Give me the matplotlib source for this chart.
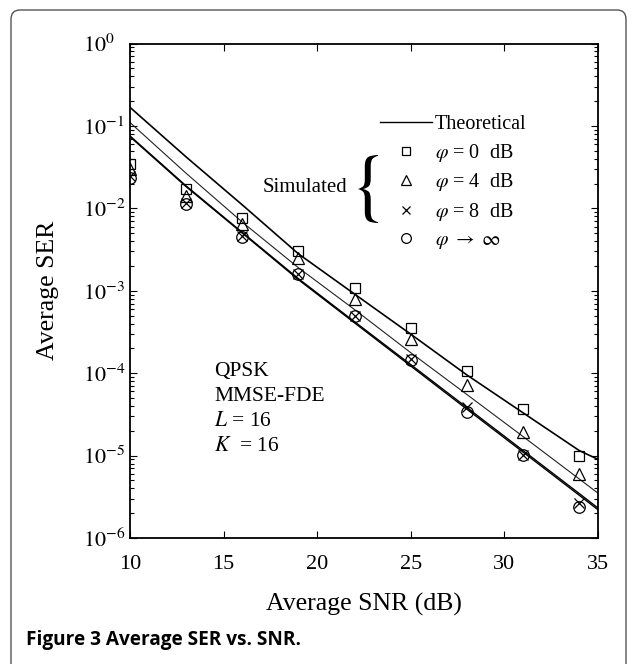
import matplotlib
matplotlib.use("Agg")
import matplotlib.pyplot as plt
from matplotlib.ticker import FixedLocator, LogLocator, NullFormatter
from matplotlib.lines import Line2D
from matplotlib.patches import FancyBboxPatch, PathPatch
from matplotlib.textpath import TextPath
from matplotlib.font_manager import FontProperties
from matplotlib.transforms import Affine2D

plt.rcParams['font.family'] = ['Liberation Serif', 'DejaVu Serif']
plt.rcParams['mathtext.fontset'] = 'stix'

# ---------------- data ----------------
snr_th = [10, 13, 16, 19, 22, 25, 28, 31, 34, 35]
th_phi0 = [0.168, 0.042, 0.011, 0.0028, 9.1e-4, 2.97e-4, 9.5e-5, 3.3e-5, 1.15e-5, 9.0e-6]
th_phi4 = [0.110, 0.0266, 0.0068, 0.0019, 5.9e-4, 1.77e-4, 5.5e-5, 1.7e-5, 5.2e-6, 3.5e-6]
th_phi8 = [0.0755, 0.0187, 0.0051, 0.00140, 4.2e-4, 1.27e-4, 3.82e-5, 1.15e-5, 3.46e-6, 2.31e-6]
th_phiinf = [0.074, 0.0183, 0.0050, 0.00136, 4.07e-4, 1.22e-4, 3.65e-5, 1.1e-5, 3.3e-6, 2.2e-6]

snr_sim = [10, 13, 16, 19, 22, 25, 28, 31, 34]
sim_phi0 = [0.0345, 0.0171, 0.0076, 0.0030, 1.07e-3, 3.5e-4, 1.06e-4, 3.66e-5, 9.8e-6]
sim_phi4 = [0.0297, 0.0141, 0.0064, 0.00247, 8.0e-4, 2.6e-4, 7.1e-5, 1.93e-5, 5.9e-6]
sim_phi8 = [0.025, 0.0115, 0.0046, 0.0016, 5.0e-4, 1.5e-4, 3.9e-5, 1.03e-5, 2.64e-6]
sim_phiinf = [0.0235, 0.0113, 0.0045, 0.0016, 5.0e-4, 1.44e-4, 3.37e-5, 1.03e-5, 2.37e-6]

xticks = [10, 15, 20, 25, 30, 35]
yticks = [1e-6, 1e-5, 1e-4, 1e-3, 1e-2, 1e-1, 1e0]
ytick_labels = [r'$10^{-6}$', r'$10^{-5}$', r'$10^{-4}$', r'$10^{-3}$',
                r'$10^{-2}$', r'$10^{-1}$', r'$10^{0}$']
legend_labels = ['Theoretical', r'$\varphi$ = 0  dB', r'$\varphi$ = 4  dB',
                 r'$\varphi$ = 8  dB', r'$\varphi\ \rightarrow\ \infty$']

# ---------------- figure ----------------
W, H = 635, 664
fig = plt.figure(figsize=(W / 100, H / 100), dpi=100)

# outer rounded frame
frame = FancyBboxPatch((11 / W, -0.1), 615 / W, 1.1 - 10 / H,
                       boxstyle="round,pad=0,rounding_size=0.014",
                       transform=fig.transFigure, facecolor='none',
                       edgecolor='#555555', linewidth=1.0)
fig.patches.append(frame)

ax = fig.add_axes([130 / W, 1 - 538 / H, 468 / W, 494.5 / H])

# theoretical curves
ax.semilogy(snr_th, th_phi0, color='black', lw=1.2)
ax.semilogy(snr_th, th_phi4, color='#222222', lw=0.8)
ax.semilogy(snr_th, th_phi8, color='black', lw=1.0)
ax.semilogy(snr_th, th_phiinf, color='black', lw=1.0)

mk = dict(linestyle='none', mfc='none', mec='black', mew=0.9)
ax.semilogy(snr_sim, sim_phi0, marker='s', ms=7.0, **mk)
ax.semilogy(snr_sim, sim_phi4, marker='^', ms=9.0, **mk)
ax.semilogy(snr_sim, sim_phi8, marker='x', ms=6.5, **mk)
ax.semilogy(snr_sim, sim_phiinf, marker='o', ms=8.3, **mk)

ax.set_xlim(10, 35)
ax.set_ylim(1e-6, 1)
ax.xaxis.set_major_locator(FixedLocator(xticks))
ax.set_xticklabels([str(t) for t in xticks])
ax.yaxis.set_major_locator(FixedLocator(yticks))
ax.set_yticklabels(ytick_labels)
ax.yaxis.set_minor_locator(LogLocator(base=10, subs=range(2, 10), numticks=20))
ax.yaxis.set_minor_formatter(NullFormatter())

ax.tick_params(which='both', direction='in', top=True, right=True, width=0.8,
               labelsize=16)
ax.tick_params(which='major', length=5)
ax.tick_params(which='minor', length=3)
ax.tick_params(axis='x', pad=12)
ax.tick_params(axis='y', pad=34)
for lbl in ax.get_yticklabels():
    lbl.set_horizontalalignment('left')
for sp in ax.spines.values():
    sp.set_linewidth(1.3)

ax.set_xlabel('Average SNR (dB)', fontsize=18.5, labelpad=14)
ax.set_ylabel('Average SER', fontsize=18.5, labelpad=17)

# annotation
ax.text((214 - 130) / 468, (538 - 362) / 494.5, 'QPSK\nMMSE-FDE\n$L$ = 16\n$K$  = 16',
        transform=ax.transAxes, fontsize=15.5, va='top', ha='left', linespacing=1.42)

# legend
handles = [Line2D([], [], color='black', lw=1.0),
           Line2D([], [], marker='s', ms=6.0, **mk),
           Line2D([], [], marker='^', ms=7.5, **mk),
           Line2D([], [], marker='x', ms=5.5, **mk),
           Line2D([], [], marker='o', ms=7.0, **mk)]
leg = ax.legend(handles, legend_labels, loc='upper left',
                bbox_to_anchor=((380 - 130) / 468, (538 - 115) / 494.5),
                frameon=False, fontsize=14.5, handlelength=2.6,
                handletextpad=0.12, labelspacing=0.38, borderaxespad=0,
                borderpad=0)

ax.text((263 - 130) / 468, (538 - 188) / 494.5, 'Simulated', transform=ax.transAxes,
        fontsize=15, ha='left', va='center')

# brace
tp = TextPath((0, 0), r'$\{$', size=10, prop=FontProperties(family='serif'))
ext = tp.get_extents()
bx0, by0, bw, bh = 358 / W, 1 - 223 / H, 20 / W, 68 / H
tr = (Affine2D().translate(-ext.x0, -ext.y0)
      .scale(1.0 / ext.width, 1.0 / ext.height)
      .scale(bw, bh).translate(bx0, by0) + fig.transFigure)
fig.patches.append(PathPatch(tp, transform=tr, facecolor='black', edgecolor='none'))

# caption
fig.text(26 / W, 1 - 640 / H, 'Figure 3 Average SER vs. SNR.',
         family=['Open Sans', 'DejaVu Sans'], fontweight='bold', fontsize=13.7,
         ha='left', va='center')

fig.savefig('out.png', dpi=100)
